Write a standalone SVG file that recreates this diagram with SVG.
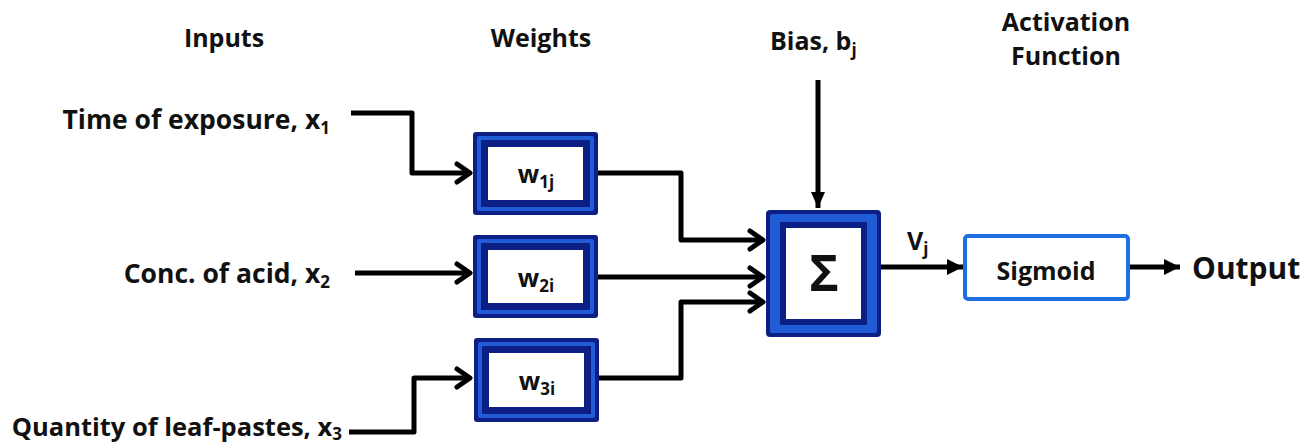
<svg xmlns="http://www.w3.org/2000/svg" width="1316" height="446" viewBox="0 0 1316 446">
<style>
text{font-family:"Open Sans","Liberation Sans",sans-serif;font-weight:700;fill:#111;}
.lbl{font-size:25px;}
.in{font-size:26.5px;}
.sub{font-size:17px;}
.wt{font-size:25px;}
.wsub{font-size:17px;}
.conn{fill:none;stroke:#000;stroke-width:5;stroke-linejoin:round;}
.navy{fill:#0b1f84;}
.blue{fill:#1f5cd6;}
.white{fill:#fff;}
</style>
<defs>
<marker id="chev" markerUnits="userSpaceOnUse" viewBox="-18 -12 22 24" markerWidth="22" markerHeight="24" refX="0" refY="0" orient="auto" overflow="visible">
<path d="M-13,-9 L0,0 L-13,9" fill="none" stroke="#000" stroke-width="5" stroke-linecap="round" stroke-linejoin="round"/>
</marker>
<marker id="tri" markerUnits="userSpaceOnUse" viewBox="-18 -10 20 20" markerWidth="20" markerHeight="20" refX="0" refY="0" orient="auto" overflow="visible">
<path d="M-16,-8 L0,0 L-16,8 Z" fill="#000"/>
</marker>
<marker id="tri2" markerUnits="userSpaceOnUse" viewBox="-18 -10 20 20" markerWidth="20" markerHeight="20" refX="0" refY="0" orient="auto" overflow="visible">
<path d="M-16,-7 L0,0 L-16,7 Z" fill="#000"/>
</marker>
</defs>

<g id="titles">
<text class="lbl" x="224" y="47" text-anchor="middle">Inputs</text>
<text class="lbl" x="541" y="47" text-anchor="middle">Weights</text>
<text class="lbl" x="770" y="50">Bias, b<tspan class="sub" dy="6">j</tspan></text>
<text class="lbl" x="1066" y="31" text-anchor="middle">Activation</text>
<text class="lbl" x="1066" y="65" text-anchor="middle">Function</text>
</g>

<g id="inputs">
<text class="in" x="330" y="129" text-anchor="end">Time of exposure, x<tspan class="sub" dy="5">1</tspan></text>
<text class="in" x="330" y="283" text-anchor="end">Conc. of acid, x<tspan class="sub" dy="5">2</tspan></text>
<text x="342" y="436" text-anchor="end" style="font-size:25.5px">Quantity of leaf-pastes, x<tspan class="sub" dy="4">3</tspan></text>
</g>

<g id="connectors">
<path class="conn" d="M351,113 H412 V173 H470" marker-end="url(#chev)"/>
<path class="conn" d="M355,273 H470" marker-end="url(#chev)"/>
<path class="conn" d="M349,432 H414 V378 H470" marker-end="url(#chev)"/>
<path class="conn" d="M598,173 H681 V240 H763" marker-end="url(#chev)"/>
<path class="conn" d="M598,277 H763" marker-end="url(#chev)"/>
<path class="conn" d="M598,378 H681 V302 H763" marker-end="url(#chev)"/>
<path class="conn" d="M818,80 V208" marker-end="url(#tri2)"/>
<path class="conn" d="M881,267 H963" marker-end="url(#tri)"/>
<path class="conn" d="M1130,267 H1180" marker-end="url(#tri)"/>
</g>

<g id="w1">
<rect class="navy" x="473" y="132" width="125" height="83" rx="3"/>
<rect class="blue" x="477" y="136" width="117" height="75" rx="2"/>
<rect class="navy" x="481" y="140" width="109" height="67"/>
<rect class="white" x="488" y="147" width="95" height="53"/>
<text class="wt" x="536" y="183" text-anchor="middle">w<tspan class="wsub" dy="5">1j</tspan></text>
</g>
<g id="w2">
<rect class="navy" x="473" y="235" width="125" height="83" rx="3"/>
<rect class="blue" x="477" y="239" width="117" height="75" rx="2"/>
<rect class="navy" x="481" y="243" width="109" height="67"/>
<rect class="white" x="488" y="250" width="95" height="53"/>
<text class="wt" x="536" y="287" text-anchor="middle">w<tspan class="wsub" dy="5">2i</tspan></text>
</g>
<g id="w3">
<rect class="navy" x="474" y="338" width="125" height="84" rx="3"/>
<rect class="blue" x="478" y="342" width="117" height="76" rx="2"/>
<rect class="navy" x="482" y="346" width="109" height="68"/>
<rect class="white" x="489" y="353" width="95" height="54"/>
<text class="wt" x="537" y="390" text-anchor="middle">w<tspan class="wsub" dy="5">3i</tspan></text>
</g>

<g id="sum">
<rect class="navy" x="766" y="210" width="115" height="127" rx="4"/>
<rect class="blue" x="770" y="214" width="107" height="119" rx="2"/>
<rect class="navy" x="780" y="222" width="87" height="103"/>
<rect class="white" x="786" y="228" width="75" height="91"/>
<text x="824" y="291" text-anchor="middle" style="font-size:50px">Σ</text>
</g>

<g id="vj">
<text class="lbl" x="907" y="250">V<tspan class="sub" dy="5">j</tspan></text>
</g>

<g id="sigmoid">
<rect x="965" y="236" width="163" height="63" rx="3" fill="#fff" stroke="#1e6fe0" stroke-width="4"/>
<text x="1046" y="280" text-anchor="middle" style="font-size:25px">Sigmoid</text>
</g>

<g id="output">
<text x="1192" y="279" style="font-size:30px">Output</text>
</g>
</svg>
